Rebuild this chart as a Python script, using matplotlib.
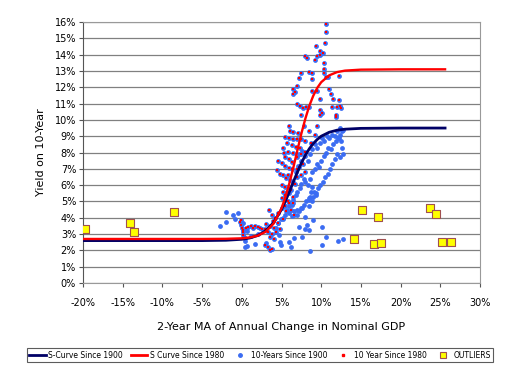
import numpy as np
import matplotlib
matplotlib.use("Agg")
import matplotlib.pyplot as plt
from matplotlib.lines import Line2D

# S-curves
curve_x = [-20, -10, -5, -2, 0, 1, 2, 3, 4, 5, 5.5, 6, 6.5, 7, 7.5, 8, 8.5, 9,
           9.5, 10, 11, 12, 13, 15, 20, 25.6]
curve_1900 = [2.60, 2.60, 2.60, 2.62, 2.68, 2.76, 2.91, 3.20, 3.70, 4.51, 5.03,
              5.60, 6.21, 6.80, 7.35, 7.83, 8.23, 8.55, 8.80, 9.00, 9.24, 9.37,
              9.43, 9.48, 9.50, 9.50]
curve_1980 = [2.70, 2.70, 2.70, 2.71, 2.74, 2.79, 2.90, 3.14, 3.64, 4.58, 5.28,
              6.13, 7.10, 8.14, 9.16, 10.07, 10.86, 11.48, 11.96, 12.31, 12.73,
              12.93, 13.02, 13.08, 13.10, 13.10]

# yearly points before 1980 (GDP change %, 10y yield %)
pre_gdp = [-2.75, -2.0, -2.0, -1.07, -0.44, -0.9, 0.19, 0.3, 0.45, 0.4, 0.6, 0.6,
           1.66, 1.2, 2.0, 3.0, 4.7, 4.8, 4.9, 5.9, 6.2, 6.6, 7.25, 7.9, 8.2,
           8.4, 9.0, 8.0, 10.1, 10.6, 10.06, 12.1, 12.8, 8.6, 7.55, 5.9, 6.9,
           7.6, 8.4, 8.5, 8.8, 8.6,
           4.3, 4.6, 4.9, 5.2, 5.5, 5.7, 6.0, 6.3, 6.5, 6.8, 7.0, 7.3, 7.5, 7.8,
           8.0, 8.3, 8.6, 8.9, 9.2, 9.5, 9.7, 10.0, 10.3, 10.6, 10.9, 11.2,
           11.5, 11.8, 12.1, 12.4, 12.6, 12.8, 12.5, 12.6, 12.7, 12.4, 12.0,
           11.7, 11.4, 11.1, 10.8, 10.5, 10.2, 9.9, 9.6, 9.3, 9.0, 8.7, 8.4,
           8.1, 7.8, 7.5, 7.2, 6.9, 6.6, 6.3,
           6.8, 7.1, 7.4, 7.2, 7.6, 8.0, 8.3, 8.6, 8.9, 9.2, 9.5, 9.8, 10.1,
           10.4, 10.7, 11.0, 11.3, 11.7, 12.0, 12.4, 12.3, 8.8, 9.1, 9.4]
pre_yld = [3.52, 4.33, 3.76, 4.17, 4.27, 3.9, 3.66, 2.84, 2.55, 2.23, 2.27, 3.2,
           2.37, 2.9, 3.0, 2.45, 2.94, 2.54, 2.33, 2.54, 2.23, 2.78, 3.45, 3.3,
           3.56, 3.25, 3.87, 4.07, 3.42, 2.85, 2.33, 2.6, 2.7, 1.97, 2.8, 4.3,
           4.5, 4.6, 4.7, 5.1, 5.0, 5.3,
           3.4, 3.7, 3.9, 4.0, 4.2, 4.5, 4.7, 4.8, 5.1, 5.4, 5.6, 5.8, 6.1, 6.4,
           6.2, 6.0, 6.4, 6.8, 7.0, 7.3, 7.1, 7.5, 7.8, 8.0, 8.3, 8.2, 8.5, 8.7,
           8.9, 9.1, 9.3, 9.4, 8.7, 8.3, 7.9, 7.7, 7.9, 7.6, 7.3, 7.0, 6.7, 6.5,
           6.2, 6.0, 5.8, 5.5, 5.3, 5.6, 5.2, 5.0, 4.8, 4.6, 4.4, 4.2, 4.4, 4.1,
           6.8, 7.2, 7.5, 7.9, 8.1, 7.8, 7.5, 7.9, 8.2, 8.5, 8.3, 8.6, 8.9, 8.7,
           9.0, 8.9, 9.1, 9.0, 9.3, 9.5, 8.9, 5.9, 5.6, 5.4]

# yearly points since 1980
post_gdp = [10.6, 10.55, 10.5, 9.35, 9.9, 10.2, 9.8, 7.9, 8.2, 9.5, 9.2, 10.3,
            10.3, 10.4, 10.6, 7.5, 8.4, 8.8, 8.9, 7.25, 10.8, 12.3, 6.5, 6.7,
            6.4, 6.9, 8.8, 9.5, 11.0, 11.2, 11.5, 9.85, 7.0, 7.3, 7.75, 8.1,
            8.5, 9.9, 10.05, 9.8, 12.3, 12.4, 11.4, 12.0, 12.5, 11.9, 11.8, 7.4,
            9.5, 6.0, 9.2,
            6.07, 6.5, 7.1, 5.4, 5.9, 6.4, 7.0, 7.5, 5.65, 6.3, 6.8, 7.3, 5.2,
            5.3, 5.4, 5.86, 6.5, 6.9, 7.5, 7.96, 4.6, 5.0, 5.4, 5.9, 6.3, 4.4,
            4.8, 5.2, 5.6, 6.1, 6.5, 5.0, 5.4, 5.9, 6.0, 5.5, 5.1, 6.4, 5.8, 6.5,
            5.3, 6.2, 5.6, 6.6, 5.0, 4.6, 4.2, 3.8, 3.4, 3.9, 4.5, 5.2, 4.0, 3.5,
            3.0, 2.9, 3.3, 3.8, 4.3, 4.8, 3.6, 4.1, 2.9, 3.35, 3.56, 3.76, -0.2,
            -0.1, 0.0, 0.2, 0.5, 0.8, 1.1, 1.4, 1.7, 2.0, 2.3, 2.6, 0.2, 0.4,
            0.1, -0.1, 7.8, 8.5, 8.0, 8.7, 8.0, 7.4, 6.9, 7.7, 7.2,
            5.7, 6.2, 5.5, 6.0, 6.7, 5.2, 5.8, 6.3, 5.9, 6.9]
post_yld = [15.9, 15.4, 14.7, 14.5, 14.2, 14.1, 14.0, 13.9, 13.8, 13.9, 13.7,
            13.5, 13.1, 12.9, 12.6, 12.85, 12.95, 12.9, 12.5, 12.55, 12.65,
            12.7, 11.9, 11.7, 11.6, 12.1, 11.8, 11.8, 11.9, 11.6, 11.3, 11.3,
            11.0, 10.85, 10.7, 10.8, 10.8, 10.6, 10.45, 10.3, 11.2, 10.85, 10.8,
            10.8, 10.7, 10.3, 10.15, 10.3, 9.6, 9.6, 9.07,
            9.3, 9.25, 9.2, 8.97, 8.9, 8.85, 8.8, 8.8, 8.56, 8.45, 8.35, 8.25,
            8.25, 8.0, 7.7, 8.05, 7.95, 7.75, 7.9, 8.05, 7.5, 7.35, 7.15, 7.05,
            7.0, 6.9, 6.7, 6.6, 6.45, 6.3, 6.2, 6.0, 5.9, 5.8, 5.5, 5.4, 5.2,
            5.3, 5.0, 4.9, 4.8, 4.5, 4.4, 4.2, 4.6, 4.3, 4.0, 4.2, 4.5, 3.8, 3.7,
            3.9, 3.4, 3.5, 3.6, 3.3, 3.1, 3.0, 3.15, 3.3, 2.85, 2.7, 2.33, 2.18,
            2.0, 2.1, 3.76, 3.55, 3.35, 3.25, 3.35, 3.45, 3.5, 3.4, 3.5, 3.45,
            3.35, 3.3, 2.94, 2.73, 3.1, 3.85, 9.6, 9.3, 8.7, 8.6, 6.8, 6.6, 6.5,
            7.3, 7.1,
            5.6, 5.7, 4.7, 4.9, 6.1, 5.6, 6.6, 7.4, 7.6, 7.0]

# outliers
out_gdp = [-19.7, -14.08, -13.58, -8.5, 15.18, 17.2, 14.1, 16.7, 17.5, 23.7,
           24.4, 25.2, 26.4]
out_yld = [3.31, 3.70, 3.13, 4.35, 4.50, 4.07, 2.68, 2.39, 2.47, 4.60, 4.23,
           2.49, 2.49]

x_ticks = [-20, -15, -10, -5, 0, 5, 10, 15, 20, 25, 30]
y_ticks = list(range(0, 17))

navy = "#000066"
red = "#ff0000"
blue = "#3b6cf2"

fig = plt.figure(figsize=(5.05, 3.75), dpi=100)
ax = fig.add_axes([0.1644, 0.2453, 0.7861, 0.6960])

all_gdp = pre_gdp + post_gdp
all_yld = pre_yld + post_yld
ax.scatter(all_gdp, all_yld, s=12, color=blue, linewidths=0, zorder=3)
ax.scatter(post_gdp, post_yld, s=3, color=red, marker="s", linewidths=0, zorder=4)
ax.plot(curve_x, curve_1900, color=navy, lw=2.0, zorder=5)
ax.plot(curve_x, curve_1980, color=red, lw=1.7, zorder=5)
ax.scatter(out_gdp, out_yld, s=30, marker="s", facecolor="#ffff00",
           edgecolor="#a05050", linewidths=0.8, zorder=6)

ax.set_xlim(-20, 30)
ax.set_ylim(0, 16)
ax.set_xticks(x_ticks)
ax.set_xticklabels([f"{t}%" for t in x_ticks])
ax.set_yticks(y_ticks)
ax.set_yticklabels([f"{t}%" for t in y_ticks])
ax.tick_params(labelsize=7, length=3, width=0.8, color="#555555", pad=2)
ax.tick_params(axis="x", pad=8)
ax.yaxis.grid(True, color="#808080", lw=0.9)
ax.set_axisbelow(True)
for side in ["top", "right", "bottom"]:
    ax.spines[side].set_color("#999999")
ax.spines["left"].set_color("#555555")

ax.set_xlabel("2-Year MA of Annual Change in Nominal GDP", fontsize=8, labelpad=10)
ax.set_ylabel("Yield on 10-Year", fontsize=8, labelpad=6)

handles = [
    Line2D([], [], color=navy, lw=2.0),
    Line2D([], [], color=red, lw=2.0),
    Line2D([], [], color=blue, marker="o", ls="", markersize=2.5),
    Line2D([], [], color=red, marker="s", ls="", markersize=1.5),
    Line2D([], [], marker="s", ls="", markersize=5, markerfacecolor="#ffff00",
           markeredgecolor="#a05050", markeredgewidth=0.8),
]
labels = ["S-Curve Since 1900", "S Curve Since 1980", "10-Years Since 1900",
          "10 Year Since 1980", "OUTLIERS"]
leg = fig.legend(handles, labels, loc="center", bbox_to_anchor=(0.515, 0.0533),
                 ncol=5, fontsize=5.5, frameon=True, fancybox=False,
                 edgecolor="#333333", handlelength=2.2, handletextpad=0.3,
                 columnspacing=1.0, borderpad=0.3)
leg.get_frame().set_linewidth(0.8)

plt.savefig("out.png", dpi=100)
